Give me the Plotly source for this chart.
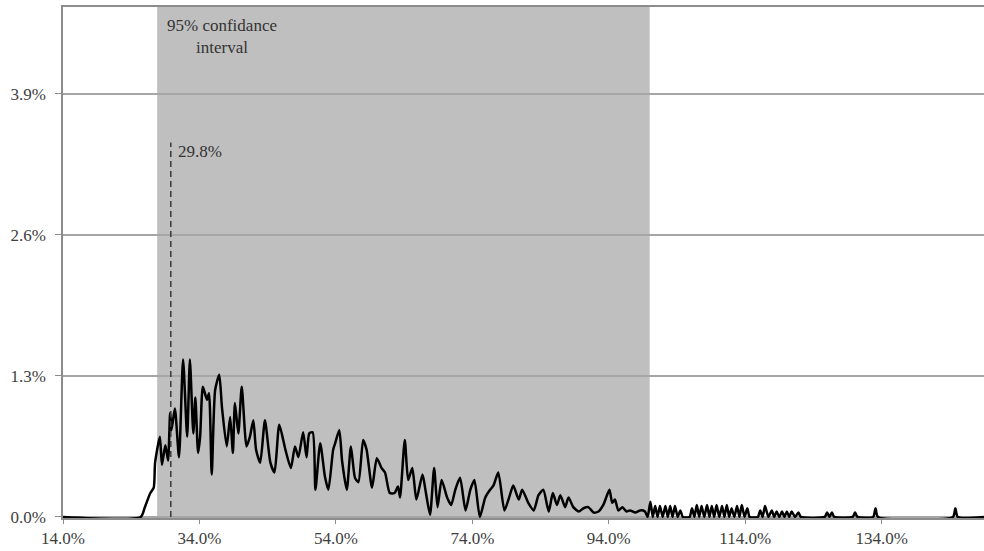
import plotly.graph_objects as go

# ---- data (percent) ----
body_x = [14.0, 25.4, 26.0, 26.8, 27.3, 27.5, 28.2, 28.5, 29.0, 29.4, 29.7, 29.9, 30.4, 31.0, 31.6,
          32.2, 32.6, 33.1, 33.4, 33.8, 34.1, 34.5, 35.1, 35.4, 35.8, 36.3, 36.9, 37.3, 38.0, 38.5,
          38.9, 39.2, 39.7, 40.2, 40.9, 41.4, 41.9, 42.3, 42.9, 43.6, 44.4, 45.0, 45.7, 46.6, 47.4,
          48.0, 48.5, 49.2, 49.7, 50.1, 50.6, 51.0, 51.7, 52.4, 52.9, 53.6, 53.9, 54.5, 54.9, 55.6,
          56.2, 56.8, 57.3, 58.0, 58.5, 59.3, 60.0, 60.7, 61.2, 61.9, 62.6, 63.1, 63.4, 64.1, 64.6,
          65.2, 65.8, 66.7, 67.2, 67.8, 68.4, 68.9, 69.5, 70.3, 70.9, 71.5, 72.2, 73.0, 73.7, 74.3,
          75.1, 75.9, 76.6, 77.1, 77.8, 78.7, 79.4, 80.0, 80.8, 81.3, 82.2, 83.0, 83.7, 84.4, 85.2,
          85.8, 86.4, 86.9, 87.6, 88.1, 88.8, 89.6, 90.3, 91.0, 91.8, 92.5, 93.2, 94.1, 94.5, 94.9,
          95.4, 96.0, 96.6, 97.1, 97.9, 98.6, 99.3, 99.7]
body_y = [0.0, 0.0, 0.09, 0.22, 0.27, 0.50, 0.74, 0.48, 0.66, 0.52, 0.96, 0.80, 1.00, 0.55, 1.45,
          0.74, 1.45, 0.77, 1.10, 0.59, 0.74, 1.20, 1.08, 1.14, 0.39, 1.17, 1.31, 1.01, 0.65, 0.92,
          0.59, 1.05, 0.77, 1.20, 0.65, 0.74, 0.89, 0.62, 0.50, 0.89, 0.50, 0.41, 0.85, 0.62, 0.45,
          0.65, 0.55, 0.78, 0.55, 0.77, 0.78, 0.25, 0.68, 0.37, 0.25, 0.62, 0.68, 0.80, 0.52, 0.25,
          0.65, 0.36, 0.32, 0.71, 0.62, 0.27, 0.54, 0.45, 0.41, 0.22, 0.22, 0.28, 0.18, 0.71, 0.34,
          0.45, 0.16, 0.39, 0.22, 0.02, 0.45, 0.09, 0.34, 0.18, 0.11, 0.25, 0.36, 0.06, 0.25, 0.34,
          0.00, 0.18, 0.25, 0.29, 0.41, 0.06, 0.18, 0.29, 0.16, 0.25, 0.13, 0.06, 0.20, 0.25, 0.05,
          0.22, 0.11, 0.20, 0.09, 0.18, 0.09, 0.05, 0.08, 0.09, 0.04, 0.05, 0.11, 0.25, 0.13, 0.16,
          0.06, 0.09, 0.05, 0.06, 0.04, 0.06, 0.05, 0.0]

tail_x = [100.1, 100.45, 100.8, 101.15, 101.5, 101.9, 102.3, 102.65, 103.0, 103.35, 103.7, 104.1,
          104.5, 104.85, 105.85, 106.2, 106.55, 106.9, 107.25, 107.6, 108.0, 108.4, 108.75, 109.1,
          109.45, 109.8, 110.2, 110.6, 110.95, 111.3, 111.65, 112.0, 112.4, 112.8, 113.15, 113.5,
          113.9, 114.3, 114.65, 115.85, 116.2, 116.55, 116.9, 117.4, 117.9, 118.25, 118.6, 119.0,
          119.4, 119.75, 120.1, 120.45, 120.8, 121.3, 121.8, 122.15, 125.65, 126.0, 126.35, 126.7,
          127.05, 129.75, 130.1, 130.45, 132.75, 133.1, 133.45, 144.45, 144.8, 145.15, 149.0]
tail_y = [0.14, 0.0, 0.10, 0.0, 0.10, 0.0, 0.10, 0.0, 0.10, 0.0, 0.10, 0.0,
          0.06, 0.0, 0.0, 0.08, 0.0, 0.11, 0.0, 0.10, 0.0, 0.11, 0.0, 0.10,
          0.0, 0.11, 0.0, 0.10, 0.0, 0.11, 0.0, 0.08, 0.0, 0.10, 0.0, 0.11,
          0.0, 0.08, 0.0, 0.0, 0.06, 0.0, 0.10, 0.0, 0.06, 0.0, 0.05, 0.0,
          0.05, 0.0, 0.05, 0.0, 0.05, 0.0, 0.04, 0.0, 0.0, 0.04, 0.0, 0.04,
          0.0, 0.0, 0.04, 0.0, 0.0, 0.08, 0.0, 0.0, 0.08, 0.0, 0.0]

ci_low, ci_high = 27.8, 100.0
point_estimate = 29.8
y_ticks = [0.0, 1.3, 2.6, 3.9]
x_ticks = [14, 34, 54, 74, 94, 114, 134]
x_range = [14, 149]
y_range = [-0.01, 4.7]

FONT = "Liberation Serif"

fig = go.Figure()

fig.add_trace(go.Scatter(
    x=body_x + tail_x, y=body_y + tail_y, mode="lines",
    line=dict(color="black", width=2.5, shape="spline", smoothing=0.6),
    hoverinfo="skip", showlegend=False))

fig.add_trace(go.Scatter(
    x=[point_estimate, point_estimate], y=[0, 3.45], mode="lines",
    line=dict(color="#3a3a3a", width=1.5, dash="6px,4px"),
    hoverinfo="skip", showlegend=False))

fig.add_shape(type="rect", xref="x", yref="y", x0=ci_low, x1=ci_high, y0=y_range[0], y1=y_range[1],
              fillcolor="#bfbfbf", line=dict(width=0), layer="below")

fig.add_annotation(x=point_estimate + 0.75, y=3.37, xref="x", yref="y", text=f"{point_estimate:.1f}%",
                   showarrow=False, xanchor="left", yanchor="middle",
                   font=dict(family=FONT, size=17, color="#333333"))
fig.add_annotation(x=37.3, y=4.43, xref="x", yref="y", text="95% confidance<br>interval",
                   showarrow=False, xanchor="center", yanchor="middle", align="center",
                   font=dict(family=FONT, size=17, color="#333333"))

fig.update_layout(
    width=984, height=551,
    margin=dict(l=63, r=0, t=7, b=33),
    paper_bgcolor="white", plot_bgcolor="white",
    font=dict(family=FONT, size=17, color="#404040"),
    xaxis=dict(range=x_range, tickvals=x_ticks, ticktext=[f"{v:.1f}%" for v in x_ticks],
               showgrid=False, zeroline=False, showline=True, linecolor="#8c8c8c", linewidth=1.5,
               mirror=True, ticks="outside", ticklen=4, tickcolor="#8c8c8c"),
    yaxis=dict(range=y_range, tickvals=y_ticks, ticktext=[f"{v:.1f}%" for v in y_ticks],
               showgrid=True, gridcolor="#a6a6a6", gridwidth=1.5, zeroline=False,
               showline=True, linecolor="#8c8c8c", linewidth=1.5,
               ticks="outside", ticklen=6, tickcolor="#8c8c8c", ticklabelstandoff=6),
)

fig.write_html("out.html", config={"displayModeBar": False},
               post_script="document.body.style.margin='0';")
